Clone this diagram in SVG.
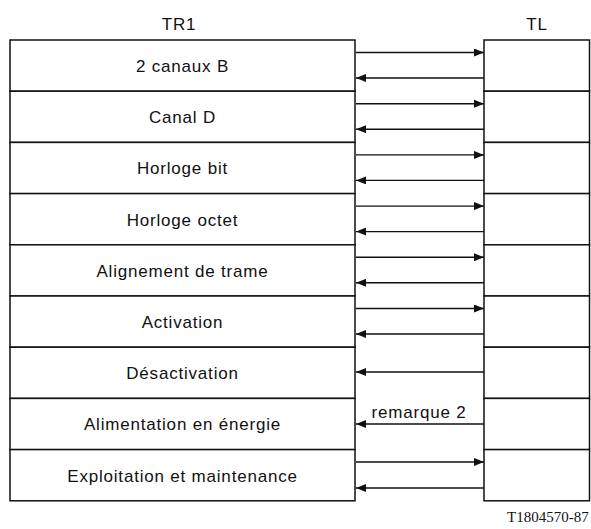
<svg xmlns="http://www.w3.org/2000/svg" width="591" height="529" viewBox="0 0 591 529">
<style>
.box{fill:#fff;stroke:#111;stroke-width:1.5}
.lbl{font-family:"Liberation Sans",Arial,sans-serif;font-size:17px;letter-spacing:0.8px;fill:#111;text-anchor:middle}
.conn{stroke:#111;stroke-width:1.4;fill:none;marker-end:url(#ah)}
.ref{font-family:"Liberation Serif","Times New Roman",serif;font-size:15px;fill:#111}
</style>
<defs>
<marker id="ah" viewBox="0 0 10 8" refX="10" refY="4" markerWidth="10" markerHeight="8" markerUnits="userSpaceOnUse" orient="auto">
<path d="M0,0 L10,4 L0,8 Z" fill="#111"/>
</marker>
</defs>
<rect width="591" height="529" fill="#fff"/>
<g id="title-tr1"><text class="lbl" x="179" y="30">TR1</text></g>
<g id="title-tl"><text class="lbl" x="537" y="30">TL</text></g>
<g id="tr1">
<g id="row1"><rect class="box" x="10" y="40" width="345" height="51.2"/><text class="lbl" x="182.5" y="72">2 canaux B</text></g>
<g id="row2"><rect class="box" x="10" y="91.2" width="345" height="51.2"/><text class="lbl" x="182.5" y="123.2">Canal D</text></g>
<g id="row3"><rect class="box" x="10" y="142.4" width="345" height="51.2"/><text class="lbl" x="182.5" y="174.4">Horloge bit</text></g>
<g id="row4"><rect class="box" x="10" y="193.6" width="345" height="51.2"/><text class="lbl" x="182.5" y="225.6">Horloge octet</text></g>
<g id="row5"><rect class="box" x="10" y="244.8" width="345" height="51.2"/><text class="lbl" x="182.5" y="276.8">Alignement de trame</text></g>
<g id="row6"><rect class="box" x="10" y="296" width="345" height="51.2"/><text class="lbl" x="182.5" y="328">Activation</text></g>
<g id="row7"><rect class="box" x="10" y="347.2" width="345" height="51.2"/><text class="lbl" x="182.5" y="379.2">Désactivation</text></g>
<g id="row8"><rect class="box" x="10" y="398.4" width="345" height="51.2"/><text class="lbl" x="182.5" y="430.4">Alimentation en énergie</text></g>
<g id="row9"><rect class="box" x="10" y="449.6" width="345" height="51.2"/><text class="lbl" x="182.5" y="481.6">Exploitation et maintenance</text></g>
</g>
<g id="tl">
<rect class="box" x="484" y="40" width="105.5" height="51.2"/>
<rect class="box" x="484" y="91.2" width="105.5" height="51.2"/>
<rect class="box" x="484" y="142.4" width="105.5" height="51.2"/>
<rect class="box" x="484" y="193.6" width="105.5" height="51.2"/>
<rect class="box" x="484" y="244.8" width="105.5" height="51.2"/>
<rect class="box" x="484" y="296" width="105.5" height="51.2"/>
<rect class="box" x="484" y="347.2" width="105.5" height="51.2"/>
<rect class="box" x="484" y="398.4" width="105.5" height="51.2"/>
<rect class="box" x="484" y="449.6" width="105.5" height="51.2"/>
</g>
<g id="connectors">
<line class="conn" x1="356" y1="52.5" x2="484" y2="52.5"/>
<line class="conn" x1="484" y1="78" x2="356" y2="78"/>
<line class="conn" x1="356" y1="103.7" x2="484" y2="103.7"/>
<line class="conn" x1="484" y1="129.2" x2="356" y2="129.2"/>
<line class="conn" x1="356" y1="154.9" x2="484" y2="154.9"/>
<line class="conn" x1="484" y1="180.4" x2="356" y2="180.4"/>
<line class="conn" x1="356" y1="206.1" x2="484" y2="206.1"/>
<line class="conn" x1="484" y1="231.6" x2="356" y2="231.6"/>
<line class="conn" x1="356" y1="257.3" x2="484" y2="257.3"/>
<line class="conn" x1="484" y1="282.8" x2="356" y2="282.8"/>
<line class="conn" x1="356" y1="308.5" x2="484" y2="308.5"/>
<line class="conn" x1="484" y1="334" x2="356" y2="334"/>
<line class="conn" x1="484" y1="372" x2="356" y2="372"/>
<line class="conn" x1="484" y1="424" x2="356" y2="424"/>
<text class="lbl" x="419" y="418">remarque 2</text>
<line class="conn" x1="356" y1="462" x2="484" y2="462"/>
<line class="conn" x1="484" y1="488" x2="356" y2="488"/>
</g>
<text class="ref" x="507" y="522">T1804570-87</text>
</svg>
